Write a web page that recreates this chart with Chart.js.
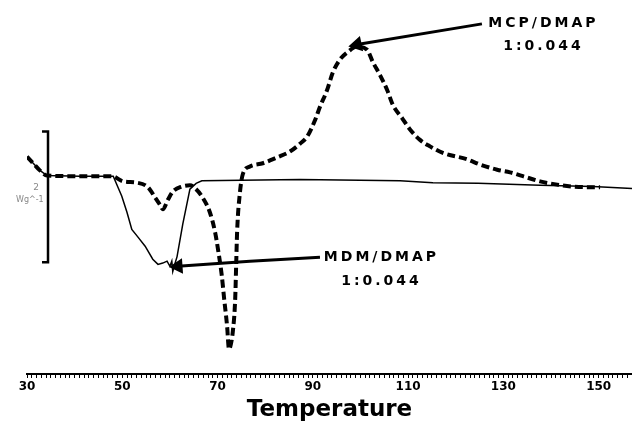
<!DOCTYPE html>
<html>
<head>
<meta charset="utf-8">
<script src="https://cdn.jsdelivr.net/npm/chart.js@4.4.1/dist/chart.umd.min.js"></script>
<style>
  html, body { margin: 0; padding: 0; background: #fff; }
  #wrap { width: 632px; height: 425px; }
</style>
</head>
<body>
<div id="wrap"><canvas id="c" width="632" height="425"></canvas></div>
<script>
// ---- Data (temperature in °C, heat flow in W/g, relative) ----
const tempMCP = [30.0, 31.3, 32.7, 34.2, 41.1, 47.8, 50.2, 53.1, 55.4, 56.9, 57.9, 58.5, 59.6, 60.6, 62.5, 64.2, 65.5, 66.7, 68.4, 69.5, 70.1, 70.9, 71.4, 72.0, 72.4, 72.8, 73.2, 73.7, 73.9, 74.1, 74.7, 75.3, 76.8, 79.5, 82.5, 85.2, 87.3, 88.8, 90.5, 91.5, 93.0, 94.2, 95.7, 97.4, 99.3, 101.4, 102.6, 104.1, 105.6, 106.8, 108.7, 110.4, 112.5, 114.6, 117.3, 122.4, 125.1, 128.7, 131.4, 134.1, 137.7, 141.3, 144.6, 148.2, 150.3];
const flowMCP = [0.32, 0.22, 0.11, 0.03, 0.02, 0.02, -0.06, -0.08, -0.15, -0.31, -0.42, -0.49, -0.34, -0.22, -0.14, -0.12, -0.18, -0.29, -0.54, -0.85, -1.11, -1.52, -1.88, -2.29, -2.65, -2.57, -2.38, -1.88, -1.37, -0.85, -0.23, 0.05, 0.17, 0.22, 0.31, 0.40, 0.52, 0.63, 0.89, 1.09, 1.35, 1.62, 1.82, 1.94, 2.02, 1.97, 1.78, 1.58, 1.35, 1.12, 0.92, 0.74, 0.58, 0.48, 0.38, 0.28, 0.20, 0.12, 0.08, 0.02, -0.06, -0.11, -0.14, -0.15, -0.15];

const tempMDM = [30.0, 31.3, 32.7, 34.2, 41.1, 48.1, 49.9, 51.0, 52.0, 53.3, 54.8, 56.4, 57.5, 58.5, 59.4, 60.0, 60.4, 60.6, 61.1, 61.5, 62.7, 64.2, 65.5, 66.7, 87.3, 108.3, 115.2, 124.7, 137.7, 148.8, 157.0];
const flowMDM = [0.32, 0.22, 0.11, 0.03, 0.02, 0.02, -0.29, -0.54, -0.80, -0.92, -1.06, -1.26, -1.34, -1.32, -1.29, -1.37, -1.29, -1.45, -1.32, -1.22, -0.72, -0.18, -0.09, -0.05, -0.03, -0.05, -0.08, -0.09, -0.12, -0.14, -0.17];

// annotation arrows (from label to curve)
const arrowMCPT = [125.5, 99.3];
const arrowMCPY = [2.37, 2.05];
const arrowMDMT = [91.5, 76.8, 61.7];
const arrowMDMY = [-1.23, -1.29, -1.37];

// scale bar: 2 W/g
const barT = [33.15, 34.41, 34.41, 33.15];
const barY = [0.708, 0.708, -1.308, -1.308];

const xTickLabels = [30, 50, 70, 90, 110, 130, 150];
const labelMCP = ["MCP/DMAP", "1:0.044"];
const labelMDM = ["MDM/DMAP", "1:0.044"];

const zip = (xs, ys) => xs.map((x, i) => ({ x: x, y: ys[i] }));

const annotations = [
  { lines: labelMCP, x: 138.1, y: [2.37, 2.02], font: 'bold 14px "DejaVu Sans"', spacing: 3, color: '#000' },
  { lines: labelMDM, x: 104.1, y: [-1.23, -1.60], font: 'bold 14px "DejaVu Sans"', spacing: 3, color: '#000' },
  { lines: ["2"], x: 31.9, y: [-0.15], font: '9px "DejaVu Sans"', spacing: 0, color: '#888' },
  { lines: ["Wg^-1"], x: 30.6, y: [-0.35], font: '8px "DejaVu Sans"', spacing: 0, color: '#888' }
];

const textPlugin = {
  id: 'textPlugin',
  afterDatasetsDraw(chart) {
    const ctx = chart.ctx;
    const xs = chart.scales.x, ys = chart.scales.y;
    ctx.save();
    annotations.forEach(a => {
      ctx.font = a.font;
      ctx.fillStyle = a.color;
      ctx.textAlign = 'center';
      ctx.textBaseline = 'middle';
      try { ctx.letterSpacing = a.spacing + 'px'; } catch (e) {}
      a.lines.forEach((t, i) => {
        ctx.fillText(t, xs.getPixelForValue(a.x) + a.spacing / 2, ys.getPixelForValue(a.y[i]));
      });
    });
    ctx.restore();
  }
};

new Chart(document.getElementById('c'), {
  type: 'scatter',
  data: {
    datasets: [
      {
        label: 'MDM/DMAP 1:0.044',
        data: zip(tempMDM, flowMDM),
        showLine: true, borderColor: '#000', borderWidth: 1.5,
        pointRadius: 0, tension: 0, fill: false
      },
      {
        label: 'MCP/DMAP 1:0.044',
        data: zip(tempMCP, flowMCP),
        showLine: true, borderColor: '#000', borderWidth: 4,
        borderDash: [8, 4], pointRadius: 0, tension: 0.35,
        cubicInterpolationMode: 'monotone', fill: false
      },
      {
        label: 'arrowMCP',
        data: zip(arrowMCPT, arrowMCPY),
        showLine: true, borderColor: '#000', borderWidth: 3,
        pointRadius: [0, 6], pointStyle: 'triangle', pointRotation: [0, 258],
        backgroundColor: '#000', pointBorderColor: '#000', tension: 0
      },
      {
        label: 'arrowMDM',
        data: zip(arrowMDMT, arrowMDMY),
        showLine: true, borderColor: '#000', borderWidth: 3,
        pointRadius: [0, 0, 6], pointStyle: 'triangle', pointRotation: [0, 0, 266],
        backgroundColor: '#000', pointBorderColor: '#000', tension: 0
      },
      {
        label: 'scale',
        data: zip(barT, barY),
        showLine: true, borderColor: '#000', borderWidth: 2.5,
        pointRadius: 0, tension: 0
      }
    ]
  },
  options: {
    responsive: false,
    animation: false,
    layout: { autoPadding: false, padding: { left: 27, right: 0, top: 0, bottom: 0 } },
    plugins: { legend: { display: false }, tooltip: { enabled: false } },
    scales: {
      x: {
        type: 'linear', min: 30, max: 157,
        border: { display: true, color: '#000', width: 2 },
        grid: { display: true, drawOnChartArea: false, drawTicks: true, tickLength: 4, color: '#000', lineWidth: 1 },
        ticks: {
          stepSize: 1, autoSkip: false, maxRotation: 0, padding: 2,
          color: '#000', font: { family: 'DejaVu Sans', size: 12, weight: 'bold' },
          callback: v => (xTickLabels.includes(v) ? String(v) : '')
        },
        afterFit: s => { s.paddingRight = 0; },
        title: {
          display: true, text: 'Temperature', color: '#000',
          font: { family: 'DejaVu Sans', size: 23, weight: 'bold' },
          padding: { top: 0, bottom: 1 }
        }
      },
      y: { type: 'linear', display: false, min: -3.031, max: 2.738 }
    }
  },
  plugins: [textPlugin]
});
</script>
</body>
</html>
